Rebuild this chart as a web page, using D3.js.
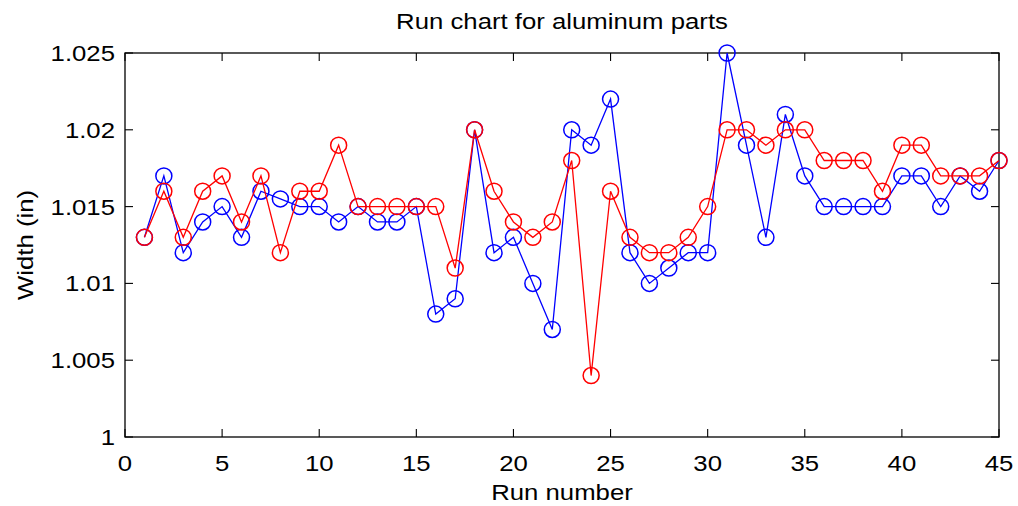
<!DOCTYPE html>
<html><head><meta charset="utf-8">
<script src="https://cdn.jsdelivr.net/npm/d3@7"></script>
<style>body{margin:0;background:#fff;} text{font-family:"Liberation Sans",Arial,sans-serif;fill:#000;}</style>
</head><body>
<svg id="c" width="1018" height="506"></svg>
<script>
const runs = d3.range(1, 46);
const blue = [1.013,1.017,1.012,1.014,1.015,1.013,1.016,1.0155,1.015,1.015,1.014,1.015,1.014,1.014,1.015,1.008,1.009,1.020,1.012,1.013,1.010,1.007,1.020,1.019,1.022,1.012,1.010,1.011,1.012,1.012,1.025,1.019,1.013,1.021,1.017,1.015,1.015,1.015,1.015,1.017,1.017,1.015,1.017,1.016,1.018];
const red = [1.013,1.016,1.013,1.016,1.017,1.014,1.017,1.012,1.016,1.016,1.019,1.015,1.015,1.015,1.015,1.015,1.011,1.020,1.016,1.014,1.013,1.014,1.018,1.004,1.016,1.013,1.012,1.012,1.013,1.015,1.020,1.020,1.019,1.020,1.020,1.018,1.018,1.018,1.016,1.019,1.019,1.017,1.017,1.017,1.018];
const xTicks = [0,5,10,15,20,25,30,35,40,45];
const yTicks = [1,1.005,1.01,1.015,1.02,1.025];
const yTickLabels = ["1","1.005","1.01","1.015","1.02","1.025"];

const L=125, R=999, T=53, B=437;
const svg = d3.select("#c");
const x = d3.scaleLinear().domain([0,45]).range([L,R]);
const y = d3.scaleLinear().domain([1,1.025]).range([B,T]);
const SX = 1.17, FS = 22;

function label(px, py, txt, anchor, rot){
  const g = svg.append("g").attr("transform",`translate(${px},${py})` + (rot?` rotate(${rot})`:"") + ` scale(${SX},1)`);
  g.append("text").attr("text-anchor",anchor).style("font-size",FS+"px").text(txt);
}

svg.append("rect").attr("x",L).attr("y",T).attr("width",R-L).attr("height",B-T)
  .attr("fill","none").attr("stroke","#000").attr("stroke-width",1.3);

const tl = 8;
xTicks.forEach(t=>{
  svg.append("line").attr("x1",x(t)).attr("x2",x(t)).attr("y1",B).attr("y2",B-tl).attr("stroke","#000").attr("stroke-width",1.1);
  svg.append("line").attr("x1",x(t)).attr("x2",x(t)).attr("y1",T).attr("y2",T+tl).attr("stroke","#000").attr("stroke-width",1.1);
  label(x(t), 471, String(t), "middle");
});
yTicks.forEach((t,i)=>{
  svg.append("line").attr("x1",L).attr("x2",L+tl).attr("y1",y(t)).attr("y2",y(t)).attr("stroke","#000").attr("stroke-width",1.1);
  svg.append("line").attr("x1",R).attr("x2",R-tl).attr("y1",y(t)).attr("y2",y(t)).attr("stroke","#000").attr("stroke-width",1.1);
  label(L-10, y(t)+8, yTickLabels[i], "end");
});

label((L+R)/2, 29, "Run chart for aluminum parts", "middle");
label((L+R)/2, 500, "Run number", "middle");
label(33, (T+B)/2, "Width (in)", "middle", -90);

function series(vals,color){
  const line = d3.line().x((d,i)=>x(runs[i])).y(d=>y(d));
  svg.append("path").datum(vals).attr("d",line).attr("fill","none").attr("stroke",color).attr("stroke-width",1.3);
  svg.append("g").selectAll("circle").data(vals).join("circle")
    .attr("cx",(d,i)=>x(runs[i])).attr("cy",d=>y(d)).attr("r",8)
    .attr("fill","none").attr("stroke",color).attr("stroke-width",1.5);
}
series(blue,"#0000ff");
series(red,"#ff0000");
</script>
</body></html>
